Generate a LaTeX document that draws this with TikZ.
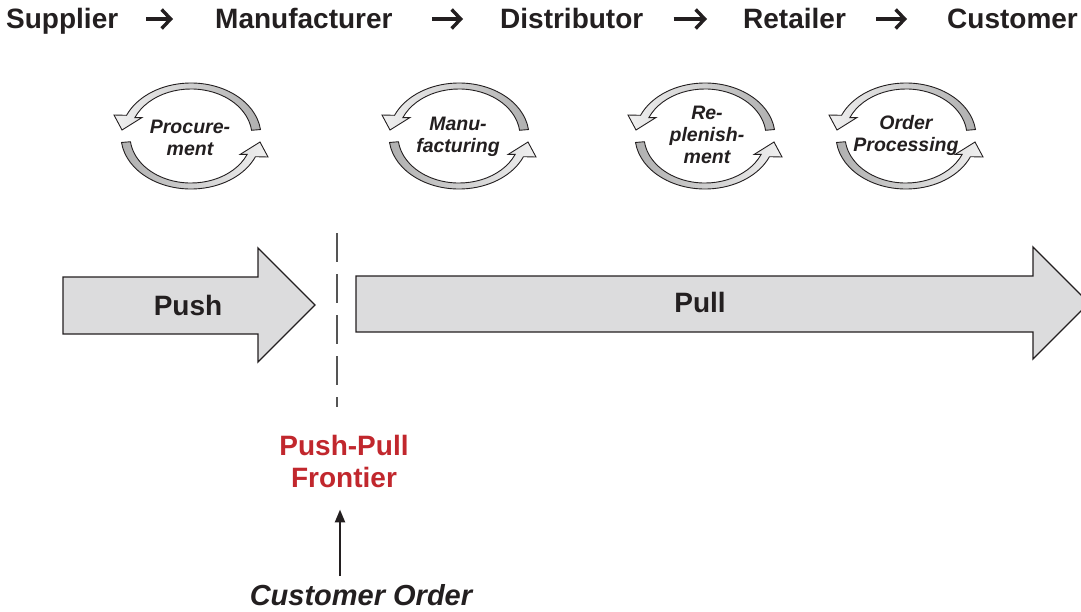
\documentclass[tikz,border=0pt]{standalone}
\usepackage{fontspec}
\setmainfont{Liberation Sans}
\usetikzlibrary{arrows.meta,calc}
\definecolor{ink}{HTML}{231F20}
\definecolor{panel}{HTML}{DCDCDD}
\definecolor{frontred}{HTML}{C1272D}
\definecolor{dashgray}{HTML}{555555}

\tikzset{
  % one curved pair of arrows around an activity
  pics/cycle/.style={code={
    \path[draw=ink, line width=0.9pt, left color=gray!12, right color=gray!62]
      (7:70 and 53) arc[start angle=7, end angle=157, x radius=70, y radius=53]
      -- (-77,21) -- (-69,6) -- (-49,18.5)
      -- (157:61 and 47) arc[start angle=157, end angle=7, x radius=61, y radius=47] -- cycle;
    \path[draw=ink, line width=0.9pt, left color=gray!62, right color=gray!12]
      (187:70 and 53) arc[start angle=187, end angle=337, x radius=70, y radius=53]
      -- (77,-21) -- (69,-6) -- (49,-18.5)
      -- (337:61 and 47) arc[start angle=337, end angle=187, x radius=61, y radius=47] -- cycle;
  }}
}

\begin{document}
\begin{tikzpicture}[x=1pt, y=1pt,
  stage/.style={anchor=base west, inner sep=0pt, text=ink,
    font=\fontsize{28}{32}\selectfont\bfseries},
  chain/.style={ink, line width=3.4pt, -{Straight Barb[length=9pt, width=19pt]}},
  cyclelabel/.style={align=center, inner sep=0pt, text=ink,
    font=\fontsize{19.5}{22}\selectfont\bfseries\itshape},
  bigarrow/.style={draw=ink, line width=1.3pt, fill=panel, line join=miter},
  arrowlabel/.style={inner sep=0pt, text=ink, font=\fontsize{28}{32}\selectfont\bfseries},
  frontier/.style={dashgray, line width=2pt, dash pattern=on 29pt off 12pt},
  redlabel/.style={align=center, inner sep=0pt, text=frontred,
    font=\fontsize{28}{32}\selectfont\bfseries},
  orderlabel/.style={inner sep=0pt, text=ink, font=\fontsize{29}{32}\selectfont\bfseries\itshape},
  pointer/.style={ink, line width=2.4pt, -{Triangle[length=13pt, width=10pt]}}
]
\useasboundingbox (0,0) rectangle (1081,-611);
\clip (0,0) rectangle (1081,-611);

% supply chain stages
\node[stage] (sup) at (6,-28) {Supplier};
\node[stage] (man) at (215,-28) {Manufacturer};
\node[stage] (dis) at (500,-28) {Distributor};
\node[stage] (ret) at (743,-28) {Retailer};
\node[stage] (cus) at (947,-28) {Customer};

\draw[chain, shorten <=28pt, shorten >=42pt] ([yshift=9pt]sup.base east) -- ([yshift=9pt]man.base west);
\draw[chain, shorten <=39pt, shorten >=37pt] ([yshift=9pt]man.base east) -- ([yshift=9pt]dis.base west);
\draw[chain, shorten <=30pt, shorten >=36pt] ([yshift=9pt]dis.base east) -- ([yshift=9pt]ret.base west);
\draw[chain, shorten <=30pt, shorten >=40pt] ([yshift=9pt]ret.base east) -- ([yshift=9pt]cus.base west);

% activity cycles
\pic (proc) at (191,-136) {cycle};
\pic (manu) at (459,-136) {cycle};
\pic (repl) at (705,-136) {cycle};
\pic (ordr) at (906,-136) {cycle};

\node[cyclelabel] (proclbl) at (190,-138) {Procure-\\ment};
\node[cyclelabel] (manulbl) at (458,-137) {Manu-\\facturing};
\node[cyclelabel] (repllbl) at (707,-135) {Re-\\plenish-\\ment};
\node[cyclelabel] (ordrlbl) at (906,-135) {Order\\Processing};

% push and pull block arrows
\draw[bigarrow] (63,-277) -- (258,-277) -- (258,-248) -- (315,-305)
  -- (258,-362) -- (258,-334) -- (63,-334) -- cycle;
\node[arrowlabel] (push) at (188,-305) {Push};

\draw[bigarrow] (356,-276) -- (1033,-276) -- (1033,-247) -- (1089,-303)
  -- (1033,-359) -- (1033,-332) -- (356,-332) -- cycle;
\node[arrowlabel] (pull) at (700,-302) {Pull};

% push-pull boundary
\coordinate (ftop) at (337,-233);
\coordinate (fbot) at (337,-407);
\draw[frontier] (ftop) -- (fbot);

\node[redlabel] (fr) at (344,-461) {Push-Pull\\Frontier};
\node[orderlabel] (co) at (361,-595) {Customer Order};
\draw[pointer] ([xshift=-21pt, yshift=8pt]co.north) -- ([xshift=-4pt, yshift=-22pt]fr.south);
\end{tikzpicture}
\end{document}
